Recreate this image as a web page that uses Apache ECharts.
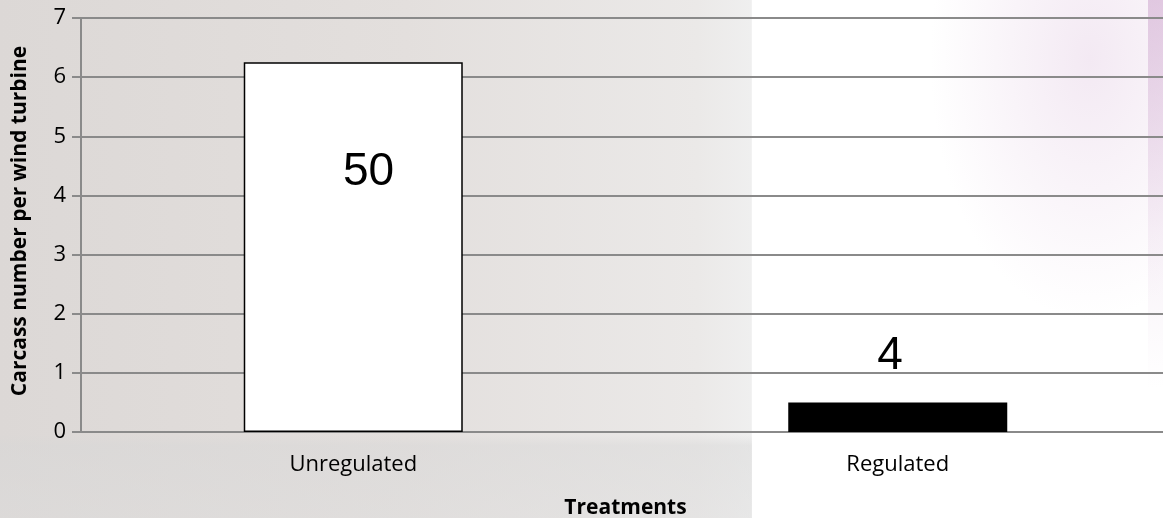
<!DOCTYPE html>
<html>
<head>
<meta charset="utf-8">
<script src="https://cdn.jsdelivr.net/npm/echarts@6/dist/echarts.min.js"></script>
<style>
html, body { margin: 0; padding: 0; }
body {
  width: 1163px; height: 518px; overflow: hidden;
  background:
    linear-gradient(to bottom, rgba(205,165,205,0.55) 0%, rgba(225,200,225,0.25) 45%, rgba(255,255,255,0) 75%) 1148px 0 / 15px 518px no-repeat,
    radial-gradient(ellipse 160px 260px at 1090px 60px, rgba(225,200,225,0.4), rgba(255,255,255,0)) ,
    linear-gradient(to bottom, rgba(255,255,255,0) 0%, rgba(255,255,255,0) 84%, rgba(215,215,215,0.45) 86%, rgba(220,220,220,0.4) 100%) 0 0 / 752px 518px no-repeat,
    linear-gradient(to right, #dcd8d6 0%, #e3dfdd 35%, #ebe9e8 60%, #efefef 64.6%, #ffffff 64.7%, #ffffff 100%);
}
#main { width: 1163px; height: 518px; }
</style>
</head>
<body>
<div id="main"></div>
<script>
// data
var categories = ['Unregulated', 'Regulated'];
var values = [6.25, 0.5];
var barLabels = ['50', '4'];
var yTicks = [0, 1, 2, 3, 4, 5, 6, 7];

var myChart = echarts.init(document.getElementById('main'));

// per-bar styles (white box with border / solid black)
var barStyles = [
  { color: '#ffffff', borderColor: '#000000', borderWidth: 1.5 },
  { color: '#000000', borderColor: '#000000', borderWidth: 0 }
];
// where the big number sits, relative to the bar
var labelPos = [['57%', 110], ['46.5%', -46]];

var seriesData = values.map(function (v, i) {
  return {
    value: v,
    itemStyle: barStyles[i],
    label: {
      show: true,
      formatter: barLabels[i],
      position: labelPos[i],
      align: 'center',
      verticalAlign: 'middle',
      fontFamily: 'Liberation Sans',
      fontSize: 46,
      color: '#000'
    }
  };
});

option = {
  animation: false,
  grid: { left: 81, right: -7, top: 18, bottom: 86, outerBoundsMode: 'none' },
  xAxis: {
    type: 'category',
    data: categories,
    name: 'Treatments',
    nameLocation: 'middle',
    nameGap: 66,
    nameTextStyle: { fontFamily: 'Open Sans', fontWeight: 'bold', fontSize: 21, color: '#000' },
    axisLine: { lineStyle: { color: '#8a8a8a', width: 2 } },
    axisTick: { show: false },
    axisLabel: { fontFamily: 'Open Sans', fontSize: 22, color: '#000', margin: 22 }
  },
  yAxis: {
    type: 'value',
    min: yTicks[0],
    max: yTicks[yTicks.length - 1],
    interval: 1,
    name: 'Carcass number per wind turbine',
    nameLocation: 'middle',
    nameGap: 50,
    nameRotate: 90,
    nameTextStyle: { fontFamily: 'Open Sans', fontWeight: 'bold', fontSize: 21, color: '#000', padding: [0, 0, 0, 8] },
    axisLine: { show: true, lineStyle: { color: '#8a8a8a', width: 2 } },
    axisTick: { show: true, length: 9, lineStyle: { color: '#8a8a8a', width: 2 } },
    axisLabel: { fontFamily: 'Open Sans', fontSize: 22, color: '#000', margin: 15 },
    splitLine: { lineStyle: { color: '#8a8a8a', width: 2 } }
  },
  series: [{
    type: 'bar',
    data: seriesData,
    barWidth: 219
  }]
};

myChart.setOption(option);
window.onresize = myChart.resize;
</script>
</body>
</html>
